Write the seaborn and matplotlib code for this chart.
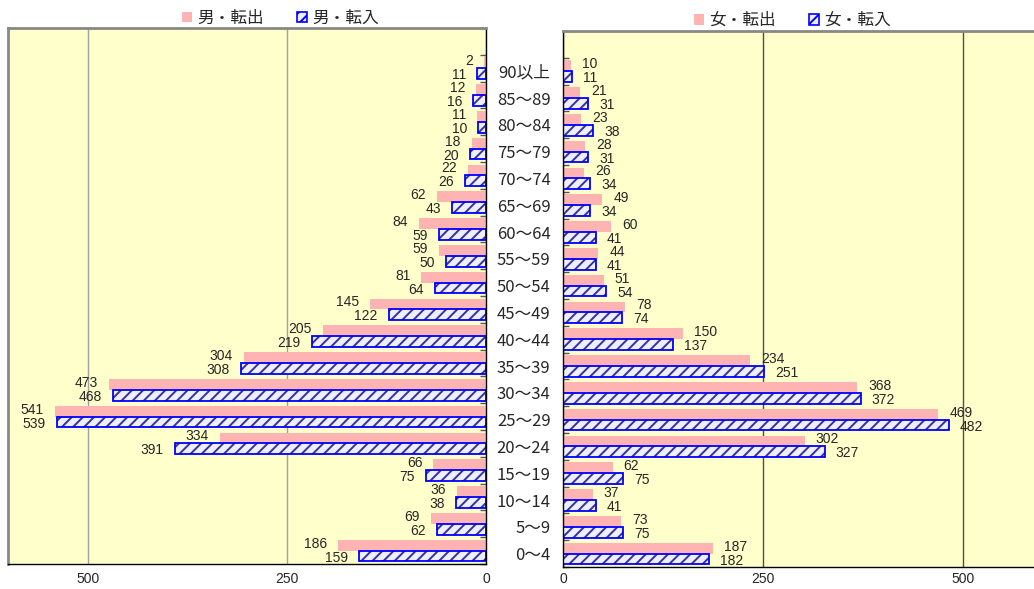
import numpy as np
import pandas as pd
import matplotlib
matplotlib.use("Agg")
import matplotlib.pyplot as plt
from matplotlib.patches import Patch, Rectangle
from matplotlib.ticker import FixedLocator
import seaborn as sns

# Age bands, oldest first (drawn top to bottom)
age_groups = ["90以上", "85～89", "80～84", "75～79", "70～74", "65～69", "60～64",
              "55～59", "50～54", "45～49", "40～44", "35～39", "30～34", "25～29",
              "20～24", "15～19", "10～14", "5～9", "0～4"]

male_out = [2, 12, 11, 18, 22, 62, 84, 59, 81, 145, 205, 304, 473, 541, 334, 66, 36, 69, 186]
male_in = [11, 16, 10, 20, 26, 43, 59, 50, 64, 122, 219, 308, 468, 539, 391, 75, 38, 62, 159]
female_out = [10, 21, 23, 28, 26, 49, 60, 44, 51, 78, 150, 234, 368, 469, 302, 62, 37, 73, 187]
female_in = [11, 31, 38, 31, 34, 34, 41, 41, 54, 74, 137, 251, 372, 482, 327, 75, 41, 75, 182]

x_ticks = [0, 250, 500]

sns.set_style("white")
plt.rcParams["font.family"] = ["Noto Sans CJK JP", "DejaVu Sans"]
plt.rcParams["hatch.linewidth"] = 1.4

NUM_FONT = ["Liberation Sans", "DejaVu Sans"]

PINK = "#FFB3B3"
HATCH_FACE = "#EEEEFF"
HATCH_INK = "#333399"
OUTLINE = "#0000FF"
PANEL = "#FFFFCC"


def long_frame(out_vals, in_vals, out_name, in_name):
    n = len(age_groups)
    return pd.DataFrame({
        "年齢": age_groups * 2,
        "区分": [out_name] * n + [in_name] * n,
        "人数": list(out_vals) + list(in_vals),
    })


def draw_panel(ax, out_vals, in_vals, out_name, in_name, inverted, grid_color, xpad):
    df = long_frame(out_vals, in_vals, out_name, in_name)
    sns.barplot(data=df, x="人数", y="年齢", hue="区分", order=age_groups,
                hue_order=[out_name, in_name], palette=[PINK, HATCH_FACE],
                orient="h", width=0.8, errorbar=None, saturation=1,
                legend=False, ax=ax)
    ax.set_facecolor(PANEL)
    if inverted:
        ax.set_xlim(600, 0)
    else:
        ax.set_xlim(0, 600)
    ax.set_ylim(len(age_groups) - 0.5, -1.5)

    out_bars, in_bars = ax.containers[0], ax.containers[1]
    for p in out_bars:
        p.set_edgecolor("none")
        p.set_linewidth(0)
    for p in in_bars:
        p.set_hatch("///")
        p.set_edgecolor(HATCH_INK)
        p.set_linewidth(0)
        ax.add_patch(Rectangle(p.get_xy(), p.get_width(), p.get_height(),
                               fill=False, edgecolor=OUTLINE, linewidth=1.3,
                               zorder=p.get_zorder() + 0.1))

    # value labels: outflow nudged up, inflow nudged down so they stack cleanly
    for container, dy in ((out_bars, 1.2), (in_bars, -1.2)):
        anns = ax.bar_label(container, padding=8, fontsize=10, family=NUM_FONT)
        for a in anns:
            ox, oy = a.xyann
            a.xyann = (ox, oy + dy)

    ax.set_xticks(x_ticks)
    ax.xaxis.grid(True, color=grid_color, linewidth=1)
    ax.yaxis.grid(False)
    ax.set_axisbelow(True)
    ax.tick_params(axis="x", length=0, labelsize=10, pad=xpad)
    for t in ax.get_xticklabels():
        t.set_family(NUM_FONT)
    ax.set_xlabel("")
    ax.set_ylabel("")
    ax.yaxis.set_minor_locator(FixedLocator(np.arange(-1.5, len(age_groups), 1)))


fig = plt.figure(figsize=(10.34, 5.89), dpi=100)
ax_m = fig.add_axes([8 / 1034, 25 / 589, 478 / 1034, 536 / 589])
ax_f = fig.add_axes([563 / 1034, 22 / 589, 480 / 1034, 536 / 589])

draw_panel(ax_m, male_out, male_in, "男・転出", "男・転入", True, "#A0A0A0", 6)
draw_panel(ax_f, female_out, female_in, "女・転出", "女・転入", False, "#505050", 3.5)

# Male panel: category axis on its right edge, no labels
ax_m.tick_params(axis="y", which="major", length=0, labelleft=False, labelright=False)
ax_m.tick_params(axis="y", which="minor", direction="in", length=4, width=1,
                 left=False, right=True, color="#555555")
ax_m.spines["left"].set_color("#888888")
ax_m.spines["left"].set_linewidth(2)
ax_m.spines["top"].set_color("#888888")
ax_m.spines["top"].set_linewidth(2)
ax_m.spines["right"].set_color("black")
ax_m.spines["right"].set_linewidth(1)
ax_m.spines["bottom"].set_color("black")
ax_m.spines["bottom"].set_linewidth(1)

# Female panel: age labels sit between the two panels
ax_f.tick_params(axis="y", which="major", length=0, labelsize=12, pad=9)
ax_f.tick_params(axis="y", which="minor", direction="in", length=4, width=1,
                 left=True, right=False, color="#555555")
ax_f.spines["left"].set_color("black")
ax_f.spines["left"].set_linewidth(1)
ax_f.spines["bottom"].set_color("black")
ax_f.spines["bottom"].set_linewidth(1)
ax_f.spines["top"].set_color("#888888")
ax_f.spines["top"].set_linewidth(2)
ax_f.spines["right"].set_color("#888888")
ax_f.spines["right"].set_linewidth(2)


def legend_handles(out_name, in_name):
    return [Patch(facecolor=PINK, edgecolor="none", label=out_name),
            Patch(facecolor=HATCH_FACE, edgecolor=OUTLINE, hatch="///",
                  linewidth=1.2, label=in_name)]


legend_kw = dict(loc="center", ncol=2, frameon=False, fontsize=12,
                 handlelength=0.6, handleheight=0.6, handletextpad=0.3,
                 columnspacing=2.0, borderaxespad=0)
fig.legend(handles=legend_handles("男・転出", "男・転入"),
           bbox_to_anchor=(0.271, 0.969), **legend_kw)
fig.legend(handles=legend_handles("女・転出", "女・転入"),
           bbox_to_anchor=(0.766, 0.965), **legend_kw)

fig.savefig("out.png", dpi=100)
